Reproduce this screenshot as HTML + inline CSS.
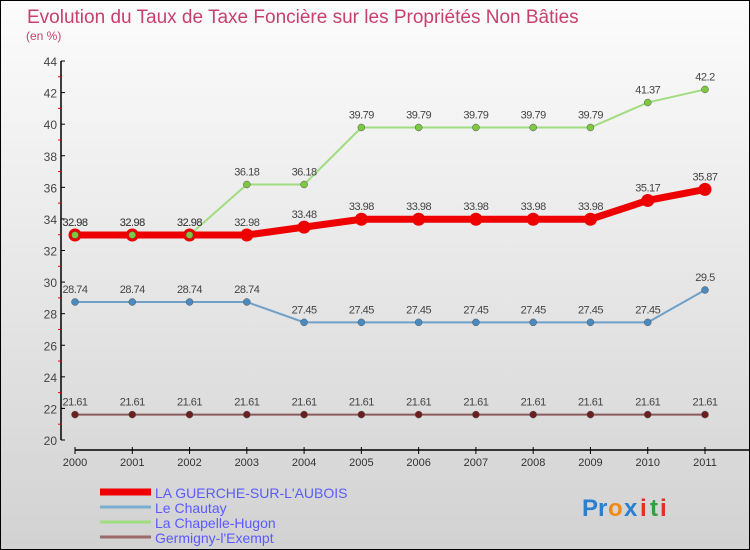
<!DOCTYPE html>
<html><head><meta charset="utf-8"><style>
body{margin:0;width:750px;height:550px;overflow:hidden;font-family:"Liberation Sans",sans-serif}
#c{position:absolute;left:0;top:0;width:748px;height:548px;border:1px solid #000;background:linear-gradient(#fcfcfc,#d2d2d2)}
</style></head><body>
<div id="c"></div>
<svg id="s" width="750" height="550" style="position:absolute;left:0;top:0"></svg>
<script>
const years=[2000,2001,2002,2003,2004,2005,2006,2007,2008,2009,2010,2011];
const guerche=[32.98,32.98,32.98,32.98,33.48,33.98,33.98,33.98,33.98,33.98,35.17,35.87];
const chautay=[28.74,28.74,28.74,28.74,27.45,27.45,27.45,27.45,27.45,27.45,27.45,29.5];
const chapelle=[32.98,32.98,32.98,36.18,36.18,39.79,39.79,39.79,39.79,39.79,41.37,42.2];
const germigny=[21.61,21.61,21.61,21.61,21.61,21.61,21.61,21.61,21.61,21.61,21.61,21.61];
const yTicks=[20,22,24,26,28,30,32,34,36,38,40,42,44];
const names=["LA GUERCHE-SUR-L'AUBOIS","Le Chautay","La Chapelle-Hugon","Germigny-l'Exempt"];
const X=i=>75+i*(630/11);
const Y=v=>440-(v-20)*(379/24);
const s=document.getElementById('s');const NS='http://www.w3.org/2000/svg';
function mk(t,a,txt){const e=document.createElementNS(NS,t);for(const k in a)e.setAttribute(k,a[k]);if(txt!=null)e.textContent=txt;s.appendChild(e);return e;}
let e;
e=mk('text',{x:27,y:23,'font-size':19,fill:'#c8406e'},'Evolution du Taux de Taxe Foncière sur les Propriétés Non Bâties');


e=mk('text',{x:26,y:40,'font-size':12,fill:'#c8406e'},'(en %)');


e=mk('line',{x1:61,y1:Y(44),x2:61,y2:Y(20),stroke:'#000','stroke-width':1.5});


yTicks.forEach(v=>{
 mk('line',{x1:61,x2:65,y1:Y(v),y2:Y(v),stroke:'#000'});
 if(v<44)mk('line',{x1:58,x2:61,y1:Y(v+1),y2:Y(v+1),stroke:'#e00'});
 e=mk('text',{x:57,y:Y(v)+5,'font-size':12,fill:'#444','text-anchor':'end'},v);
 
 
});
e=mk('line',{x1:X(0),x2:X(11)+45,y1:450,y2:450,stroke:'#000','stroke-width':1.5});


years.forEach((y,i)=>{
 mk('line',{x1:X(i),x2:X(i),y1:447,y2:454,stroke:'#000'});
 e=mk('text',{x:X(i),y:466,'font-size':11,fill:'#333','text-anchor':'middle'},y);
 
 
});
const series=[
 {d:germigny,c:'#8b5a5a',dot:'#6b1f1f',w:2,r:3.5,n:'series-germigny'},
 {d:chautay,c:'#6fa0c8',dot:'#4a8ac0',w:2,r:3.5,n:'series-chautay'},
 {d:chapelle,c:'#a0dc80',dot:'#7cc840',w:2,r:3.5,n:'series-chapelle-hugon'},
 {d:guerche,c:'#ee0000',dot:'#ee0000',w:7,r:6.5,n:'series-la-guerche'}];
series.forEach(sr=>{
 e=mk('polyline',{points:sr.d.map((v,i)=>X(i)+','+Y(v)).join(' '),fill:'none',stroke:sr.c,'stroke-width':sr.w});
 
 
 sr.d.forEach((v,i)=>{
  e=mk('circle',{cx:X(i),cy:Y(v),r:sr.r,fill:sr.dot,stroke:sr.r>5?'#ee0000':'#555','stroke-width':sr.r>5?0:0.5});
  
  
  e=mk('text',{x:X(i),y:Y(v)-9,'font-size':11,fill:'#444','text-anchor':'middle','letter-spacing':'-0.5'},v);
  
  
 });
});
chapelle.forEach((v,i)=>{
 if(i<3){
  e=mk('circle',{cx:X(i),cy:Y(v),r:3.5,fill:'#7cc840',stroke:'#555','stroke-width':0.5});
  
  
 }
});
const lc=['#ee0000','#7aaed0','#a0dc80','#9a6a6a'],lw=[7,3,3,3];
names.forEach((n,i)=>{
 const yy=492+i*15;
 e=mk('line',{x1:100,x2:151,y1:yy,y2:yy,stroke:lc[i],'stroke-width':lw[i]});
 
 
 e=mk('text',{x:155,y:yy+6,'font-size':14,fill:'#5a5aff'},n);
 
 
});
const logo=[['P','#2a7fd0'],['r','#2a7fd0'],['o','#f08a10'],['x','#2a7fd0'],['i','#e03020'],['t','#30a040'],['i','#e03020']];
let lx=582;
logo.forEach(([ch,c])=>{e=mk('text',{x:lx,y:516,'font-size':24,'font-weight':'bold',fill:c},ch);
 
 
 lx+=(ch=='i'||ch=='t'||ch=='r')?10:16;});
</script>
</body></html>
